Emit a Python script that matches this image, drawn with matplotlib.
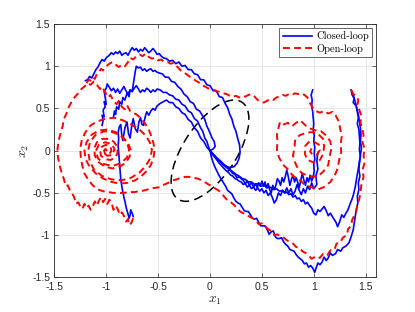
import numpy as np
import matplotlib
matplotlib.use('Agg')
import matplotlib.pyplot as plt
from matplotlib.patches import Ellipse

plt.rcParams['font.family'] = ['Liberation Sans', 'DejaVu Sans']
plt.rcParams['mathtext.fontset'] = 'cm'
plt.rcParams['axes.unicode_minus'] = False

# ---------------- data ----------------
closed_1 = [(-1.20,0.83),(-1.18,0.84),(-1.16,0.88),(-1.14,0.86),(-1.12,0.91),(-1.10,0.96),(-1.08,0.99),(-1.06,1.04),(-1.04,1.08),(-1.02,1.06),(-1.00,1.10),(-0.97,1.13),(-0.95,1.16),(-0.93,1.14),(-0.91,1.17),(-0.89,1.15),(-0.87,1.18),(-0.85,1.13),(-0.83,1.15),(-0.81,1.16),(-0.79,1.13),(-0.77,1.18),(-0.75,1.22),(-0.73,1.19),(-0.71,1.21),(-0.69,1.17),(-0.67,1.20),(-0.65,1.18),(-0.63,1.22),(-0.61,1.19),(-0.59,1.16),(-0.57,1.18),(-0.55,1.21),(-0.53,1.18),(-0.51,1.14),(-0.49,1.15),(-0.47,1.12),(-0.45,1.10),(-0.42,1.09),(-0.39,1.06),(-0.36,1.07),(-0.33,1.03),(-0.30,1.05),(-0.27,1.00),(-0.24,1.01),(-0.21,0.96),(-0.18,0.96),(-0.15,0.91),(-0.12,0.90),(-0.09,0.84),(-0.06,0.84),(-0.03,0.78),(0.00,0.77),(0.03,0.71),(0.06,0.71),(0.09,0.64),(0.12,0.63),(0.15,0.55),(0.17,0.51),(0.19,0.43),(0.21,0.38),(0.23,0.29),(0.25,0.23),(0.27,0.13),(0.285,0.07),(0.29,-0.02),(0.28,-0.09),(0.26,-0.15),(0.23,-0.19),(0.19,-0.20),(0.15,-0.18),(0.11,-0.14),(0.07,-0.10),(0.03,-0.05),(0.0,0.0)]
closed_2 = [(-0.93,0.40),(-0.92,0.47),(-0.91,0.43),(-0.90,0.52),(-0.88,0.49),(-0.87,0.58),(-0.85,0.55),(-0.84,0.63),(-0.82,0.60),(-0.80,0.68),(-0.78,0.64),(-0.77,0.72),(-0.75,0.70),(-0.74,0.78),(-0.73,0.86),(-0.72,0.94),(-0.71,1.00),(-0.69,0.98),(-0.67,0.99),(-0.65,0.95),(-0.63,0.97),(-0.61,0.94),(-0.59,0.96),(-0.57,0.97),(-0.55,0.94),(-0.53,0.95),(-0.51,0.93),(-0.49,0.92),(-0.46,0.91),(-0.43,0.87),(-0.40,0.87),(-0.37,0.82),(-0.34,0.81),(-0.31,0.76),(-0.28,0.73),(-0.25,0.67),(-0.22,0.64),(-0.19,0.58),(-0.16,0.56),(-0.13,0.49),(-0.10,0.47),(-0.07,0.41),(-0.05,0.37),(-0.03,0.29),(-0.01,0.24),(0.02,0.15),(0.04,0.11),(0.05,0.05),(0.03,0.02),(0.0,0.0)]
closed_3 = [(-1.04,0.30),(-1.03,0.36),(-1.04,0.42),(-1.02,0.40),(-1.03,0.48),(-1.01,0.52),(-1.02,0.58),(-1.00,0.55),(-1.01,0.63),(-1.02,0.70),(-1.00,0.74),(-0.99,0.79),(-0.97,0.75),(-0.95,0.71),(-0.93,0.74),(-0.91,0.69),(-0.89,0.73),(-0.87,0.68),(-0.85,0.72),(-0.83,0.76),(-0.81,0.71),(-0.79,0.67),(-0.77,0.72),(-0.75,0.70),(-0.73,0.74),(-0.71,0.77),(-0.69,0.73),(-0.67,0.69),(-0.65,0.72),(-0.63,0.70),(-0.61,0.74),(-0.59,0.72),(-0.57,0.69),(-0.55,0.72),(-0.53,0.70),(-0.51,0.73),(-0.48,0.72),(-0.45,0.69),(-0.42,0.69),(-0.39,0.66),(-0.36,0.65),(-0.33,0.61),(-0.30,0.60),(-0.27,0.55),(-0.24,0.53),(-0.21,0.47),(-0.18,0.45),(-0.15,0.38),(-0.12,0.35),(-0.09,0.27),(-0.07,0.23),(-0.05,0.15),(-0.03,0.11),(-0.015,0.05),(0.0,0.0)]
closed_4 = [(-0.74,-0.78),(-0.75,-0.74),(-0.765,-0.70),(-0.77,-0.76),(-0.78,-0.80),(-0.79,-0.75),(-0.80,-0.71),(-0.81,-0.66),(-0.82,-0.60),(-0.83,-0.55),(-0.84,-0.49),(-0.85,-0.42),(-0.86,-0.34),(-0.865,-0.26),(-0.87,-0.18),(-0.875,-0.10),(-0.88,-0.02),(-0.885,0.06),(-0.88,0.14),(-0.885,0.22),(-0.875,0.28),(-0.86,0.31),(-0.85,0.18),(-0.84,0.12),(-0.82,0.27),(-0.80,0.34),(-0.785,0.20),(-0.77,0.15),(-0.755,0.29),(-0.74,0.38),(-0.72,0.26),(-0.70,0.22),(-0.685,0.34),(-0.67,0.39),(-0.655,0.31),(-0.64,0.30),(-0.625,0.40),(-0.61,0.46),(-0.59,0.42),(-0.57,0.47),(-0.55,0.50),(-0.53,0.48),(-0.51,0.53),(-0.48,0.56),(-0.45,0.58),(-0.42,0.60),(-0.39,0.57),(-0.36,0.57),(-0.33,0.52),(-0.30,0.50),(-0.27,0.45),(-0.24,0.43),(-0.21,0.37),(-0.18,0.34),(-0.15,0.27),(-0.12,0.23),(-0.09,0.15),(-0.06,0.11),(-0.03,0.04),(0.0,0.0)]
closed_5 = [(0.99,0.72),(0.975,0.66),(0.985,0.60),(0.98,0.53),(0.99,0.46),(0.995,0.39),(1.0,0.32),(0.995,0.25),(1.005,0.18),(1.0,0.11),(1.01,0.04),(1.005,-0.03),(1.01,-0.10),(1.0,-0.17),(1.005,-0.24),(0.995,-0.31),(0.98,-0.36),(0.965,-0.29),(0.95,-0.37),(0.935,-0.32),(0.92,-0.41),(0.905,-0.35),(0.89,-0.27),(0.875,-0.35),(0.86,-0.44),(0.845,-0.37),(0.83,-0.32),(0.815,-0.37),(0.80,-0.29),(0.785,-0.34),(0.77,-0.41),(0.755,-0.31),(0.74,-0.23),(0.725,-0.31),(0.71,-0.37),(0.695,-0.32),(0.68,-0.41),(0.665,-0.36),(0.65,-0.33),(0.635,-0.41),(0.62,-0.46),(0.605,-0.41),(0.59,-0.50),(0.575,-0.46),(0.56,-0.39),(0.545,-0.44),(0.53,-0.37),(0.515,-0.42),(0.50,-0.36),(0.485,-0.42),(0.47,-0.38),(0.455,-0.44),(0.44,-0.39),(0.42,-0.43),(0.40,-0.38),(0.38,-0.41),(0.36,-0.36),(0.34,-0.39),(0.32,-0.35),(0.30,-0.33),(0.28,-0.31),(0.26,-0.32),(0.24,-0.28),(0.22,-0.27),(0.20,-0.24),(0.18,-0.22),(0.16,-0.20),(0.14,-0.18),(0.12,-0.16),(0.10,-0.13),(0.08,-0.11),(0.06,-0.08),(0.04,-0.06),(0.02,-0.03),(0.0,0.0)]
closed_6 = [(1.04,-0.02),(1.03,-0.12),(1.04,-0.22),(1.02,-0.30),(1.03,-0.40),(1.0,-0.45),(0.98,-0.38),(0.96,-0.46),(0.94,-0.42),(0.92,-0.50),(0.90,-0.45),(0.88,-0.52),(0.86,-0.47),(0.84,-0.40),(0.82,-0.48),(0.80,-0.52),(0.78,-0.45),(0.76,-0.50),(0.74,-0.44),(0.72,-0.50),(0.70,-0.47),(0.68,-0.53),(0.66,-0.50),(0.64,-0.58),(0.62,-0.62),(0.60,-0.55),(0.58,-0.50),(0.56,-0.53),(0.54,-0.47),(0.52,-0.50),(0.50,-0.45),(0.48,-0.48),(0.46,-0.44),(0.44,-0.47),(0.42,-0.43),(0.40,-0.45),(0.38,-0.41),(0.36,-0.43),(0.34,-0.39),(0.32,-0.40),(0.30,-0.37),(0.28,-0.36),(0.26,-0.34),(0.24,-0.33),(0.22,-0.30),(0.20,-0.29),(0.18,-0.26),(0.15,-0.23),(0.12,-0.19),(0.09,-0.15),(0.06,-0.10),(0.03,-0.05),(0.0,0.0)]
closed_7 = [(1.36,0.72),(1.37,0.66),(1.39,0.62),(1.38,0.57),(1.41,0.53),(1.42,0.46),(1.43,0.39),(1.42,0.32),(1.435,0.25),(1.44,0.17),(1.445,0.09),(1.44,0.01),(1.45,-0.07),(1.44,-0.15),(1.435,-0.22),(1.445,-0.30),(1.43,-0.38),(1.435,-0.46),(1.42,-0.54),(1.425,-0.62),(1.41,-0.70),(1.40,-0.78),(1.39,-0.86),(1.38,-0.94),(1.36,-1.02),(1.34,-1.09),(1.31,-1.13),(1.28,-1.15),(1.26,-1.19),(1.23,-1.17),(1.21,-1.22),(1.18,-1.24),(1.16,-1.21),(1.14,-1.27),(1.12,-1.30),(1.10,-1.26),(1.08,-1.32),(1.06,-1.35),(1.04,-1.33),(1.02,-1.40),(1.01,-1.44),(0.99,-1.39),(0.97,-1.36),(0.95,-1.38),(0.93,-1.33),(0.91,-1.34),(0.89,-1.30),(0.87,-1.28),(0.85,-1.26),(0.83,-1.23),(0.81,-1.19),(0.79,-1.18),(0.77,-1.17),(0.75,-1.13),(0.73,-1.11),(0.71,-1.08),(0.69,-1.03),(0.67,-1.04),(0.65,-1.04),(0.63,-1.02),(0.61,-0.95),(0.59,-0.96),(0.57,-0.99),(0.55,-0.93),(0.53,-0.89),(0.51,-0.89),(0.49,-0.89),(0.47,-0.85),(0.45,-0.80),(0.43,-0.81),(0.41,-0.80),(0.39,-0.76),(0.37,-0.72),(0.35,-0.72),(0.33,-0.71),(0.31,-0.67),(0.29,-0.63),(0.27,-0.62),(0.25,-0.60),(0.23,-0.56),(0.21,-0.51),(0.19,-0.49),(0.17,-0.47),(0.15,-0.42),(0.13,-0.38),(0.11,-0.34),(0.09,-0.30),(0.07,-0.25),(0.05,-0.20),(0.03,-0.14),(0.015,-0.08),(0.0,0.0)]
closed_8 = [(1.37,0.70),(1.385,0.64),(1.40,0.58),(1.415,0.50),(1.43,0.43),(1.44,0.35),(1.45,0.27),(1.455,0.19),(1.45,0.11),(1.46,0.03),(1.45,-0.05),(1.44,-0.13),(1.43,-0.21),(1.42,-0.28),(1.41,-0.35),(1.40,-0.43),(1.385,-0.51),(1.37,-0.57),(1.35,-0.63),(1.33,-0.70),(1.31,-0.74),(1.29,-0.79),(1.27,-0.76),(1.25,-0.84),(1.23,-0.90),(1.215,-0.85),(1.20,-0.82),(1.18,-0.78),(1.16,-0.74),(1.14,-0.77),(1.12,-0.71),(1.10,-0.66),(1.08,-0.69),(1.06,-0.72),(1.04,-0.70),(1.02,-0.76),(1.0,-0.74),(0.98,-0.68),(0.96,-0.65),(0.94,-0.61),(0.92,-0.63),(0.90,-0.58),(0.88,-0.60),(0.86,-0.56),(0.84,-0.57),(0.82,-0.53),(0.80,-0.55),(0.78,-0.51),(0.76,-0.52),(0.74,-0.49),(0.72,-0.50),(0.70,-0.47),(0.67,-0.48),(0.64,-0.45),(0.61,-0.46),(0.58,-0.43),(0.55,-0.44),(0.52,-0.41),(0.49,-0.42),(0.46,-0.39),(0.43,-0.40),(0.40,-0.37),(0.37,-0.37),(0.34,-0.34),(0.31,-0.33),(0.28,-0.30),(0.25,-0.28),(0.22,-0.25),(0.19,-0.22),(0.16,-0.19),(0.13,-0.16),(0.10,-0.12),(0.07,-0.09),(0.04,-0.05),(0.0,0.0)]

open_1 = [(-0.74,-0.80),(-0.76,-0.86),(-0.78,-0.88),(-0.79,-0.81),(-0.81,-0.84),(-0.83,-0.77),(-0.85,-0.73),(-0.87,-0.76),(-0.89,-0.69),(-0.91,-0.65),(-0.93,-0.70),(-0.95,-0.61),(-0.97,-0.58),(-0.99,-0.63),(-1.01,-0.57),(-1.03,-0.61),(-1.05,-0.55),(-1.07,-0.59),(-1.09,-0.65),(-1.11,-0.60),(-1.13,-0.66),(-1.15,-0.70),(-1.17,-0.65),(-1.19,-0.68),(-1.21,-0.63),(-1.23,-0.69),(-1.25,-0.66),(-1.27,-0.61),(-1.29,-0.63),(-1.31,-0.55),(-1.33,-0.50),(-1.35,-0.47),(-1.37,-0.41),(-1.39,-0.42),(-1.41,-0.33),(-1.43,-0.26),(-1.45,-0.17),(-1.465,-0.08),(-1.47,0.02),(-1.46,0.11),(-1.44,0.21),(-1.42,0.29),(-1.41,0.37),(-1.38,0.45),(-1.36,0.52),(-1.33,0.59),(-1.30,0.64),(-1.27,0.68),(-1.24,0.73),(-1.21,0.76),(-1.18,0.80),(-1.15,0.78),(-1.12,0.82),(-1.09,0.78),(-1.06,0.73),(-1.04,0.76),(-1.01,0.69),(-0.98,0.63),(-0.96,0.66),(-0.93,0.59),(-0.90,0.55),(-0.88,0.59),(-0.85,0.52),(-0.82,0.49),(-0.80,0.54),(-0.77,0.47),(-0.74,0.45),(-0.71,0.43),(-0.68,0.40),(-0.65,0.36),(-0.62,0.31),(-0.59,0.25),(-0.565,0.17),(-0.545,0.09),(-0.535,0.0),(-0.545,-0.09),(-0.57,-0.17),(-0.61,-0.24),(-0.66,-0.30),(-0.72,-0.35),(-0.79,-0.38),(-0.87,-0.39),(-0.95,-0.37),(-1.03,-0.33),(-1.10,-0.27),(-1.16,-0.19),(-1.20,-0.10),(-1.21,0.0),(-1.19,0.10),(-1.14,0.19),(-1.07,0.24),(-0.99,0.25),(-0.91,0.22),(-0.84,0.16),(-0.79,0.09),(-0.765,0.01),(-0.775,-0.07),(-0.81,-0.14),(-0.87,-0.19),(-0.94,-0.21),(-1.01,-0.19),(-1.07,-0.14),(-1.11,-0.06),(-1.115,0.03),(-1.09,0.10),(-1.04,0.14),(-0.98,0.14),(-0.93,0.11),(-0.895,0.05),(-0.89,-0.02),(-0.91,-0.08),(-0.96,-0.11),(-1.01,-0.10),(-1.05,-0.06),(-1.06,0.0),(-1.04,0.05),(-1.0,0.07),(-0.96,0.05),(-0.95,0.0),(-0.97,-0.04),(-1.01,-0.04),(-1.02,0.0),(-1.0,0.02)]
open_2 = [(-1.19,0.80),(-1.17,0.84),(-1.15,0.83),(-1.13,0.87),(-1.11,0.85),(-1.09,0.91),(-1.07,0.93),(-1.05,0.97),(-1.03,0.95),(-1.00,1.00),(-0.97,1.03),(-0.94,1.05),(-0.91,1.02),(-0.88,0.99),(-0.85,1.02),(-0.82,1.00),(-0.79,1.05),(-0.77,1.10),(-0.74,1.08),(-0.71,1.12),(-0.68,1.14),(-0.65,1.12),(-0.62,1.15),(-0.59,1.11),(-0.56,1.09),(-0.53,1.10),(-0.50,1.07),(-0.47,1.08),(-0.44,1.05),(-0.41,1.05),(-0.38,1.03),(-0.35,1.04),(-0.32,1.00),(-0.29,0.96),(-0.26,0.93),(-0.23,0.91),(-0.20,0.88),(-0.17,0.86),(-0.14,0.83),(-0.11,0.81),(-0.08,0.78),(-0.05,0.76),(-0.02,0.74),(0.01,0.73),(0.04,0.72),(0.07,0.70),(0.10,0.70),(0.13,0.68),(0.16,0.67),(0.19,0.65),(0.22,0.64),(0.25,0.65),(0.28,0.63),(0.31,0.65),(0.34,0.64),(0.37,0.66),(0.40,0.67),(0.43,0.64),(0.46,0.60),(0.49,0.58),(0.52,0.57),(0.55,0.59),(0.58,0.61),(0.61,0.60),(0.64,0.63),(0.67,0.64),(0.70,0.66),(0.73,0.65),(0.76,0.67),(0.79,0.66),(0.82,0.68),(0.85,0.67),(0.88,0.68),(0.91,0.66),(0.94,0.63),(0.96,0.57),(0.99,0.51),(1.02,0.47),(1.06,0.45),(1.10,0.47),(1.14,0.44),(1.18,0.46),(1.21,0.42),(1.24,0.35),(1.255,0.26),(1.27,0.17),(1.26,0.08),(1.265,-0.02),(1.245,-0.11),(1.23,-0.21),(1.20,-0.30),(1.16,-0.37),(1.10,-0.43),(1.04,-0.46),(0.97,-0.43),(0.91,-0.40),(0.86,-0.34),(0.80,-0.30),(0.75,-0.22),(0.70,-0.16),(0.665,-0.08),(0.645,0.01),(0.65,0.10),(0.645,0.19),(0.66,0.27),(0.675,0.34),(0.71,0.31),(0.75,0.33),(0.79,0.29),(0.83,0.33),(0.87,0.36),(0.92,0.30),(0.97,0.26),(1.02,0.24),(1.07,0.23),(1.12,0.18),(1.16,0.11),(1.17,0.02),(1.15,-0.08),(1.14,-0.17),(1.09,-0.25),(1.03,-0.31),(0.96,-0.30),(0.89,-0.27),(0.85,-0.22),(0.82,-0.14),(0.80,-0.06),(0.815,0.04),(0.82,0.12),(0.86,0.18),(0.92,0.21),(0.98,0.22),(1.04,0.20),(1.09,0.14),(1.10,0.05),(1.09,-0.04),(1.06,-0.11),(1.00,-0.14),(0.94,-0.11),(0.915,-0.04),(0.915,0.05),(0.95,0.10),(1.00,0.11),(1.05,0.07),(1.06,0.01),(1.03,-0.05),(0.99,-0.05),(0.965,-0.01),(0.98,0.03),(1.0,0.01)]
open_3 = [(1.36,0.72),(1.38,0.67),(1.41,0.65),(1.43,0.60),(1.42,0.54),(1.44,0.48),(1.46,0.41),(1.45,0.33),(1.47,0.26),(1.48,0.18),(1.47,0.10),(1.49,0.02),(1.48,-0.06),(1.49,-0.14),(1.47,-0.23),(1.48,-0.31),(1.46,-0.40),(1.45,-0.49),(1.44,-0.57),(1.42,-0.64),(1.41,-0.72),(1.39,-0.77),(1.37,-0.82),(1.36,-0.89),(1.33,-0.93),(1.32,-1.00),(1.28,-1.03),(1.26,-1.08),(1.22,-1.10),(1.20,-1.17),(1.16,-1.18),(1.13,-1.24),(1.09,-1.22),(1.06,-1.27),(1.02,-1.25),(0.98,-1.28),(0.95,-1.24),(0.92,-1.21),(0.89,-1.19),(0.86,-1.15),(0.83,-1.14),(0.80,-1.10),(0.77,-1.08),(0.74,-1.06),(0.71,-1.03),(0.68,-1.02),(0.65,-0.99),(0.62,-1.00),(0.59,-0.95),(0.56,-0.93),(0.53,-0.89),(0.50,-0.86),(0.47,-0.87),(0.44,-0.82),(0.41,-0.80),(0.38,-0.78),(0.35,-0.76),(0.32,-0.74),(0.29,-0.72),(0.26,-0.68),(0.23,-0.64),(0.20,-0.61),(0.17,-0.59),(0.14,-0.55),(0.11,-0.50),(0.08,-0.47),(0.04,-0.44),(0.0,-0.41),(-0.04,-0.38),(-0.08,-0.35),(-0.12,-0.33),(-0.16,-0.32),(-0.20,-0.31),(-0.24,-0.31),(-0.28,-0.32),(-0.32,-0.34),(-0.36,-0.35),(-0.40,-0.38),(-0.44,-0.40),(-0.48,-0.43),(-0.53,-0.44),(-0.58,-0.45),(-0.63,-0.47),(-0.68,-0.48),(-0.73,-0.49),(-0.78,-0.49),(-0.83,-0.50),(-0.88,-0.50),(-0.93,-0.50),(-0.98,-0.49),(-1.03,-0.48),(-1.08,-0.46),(-1.13,-0.41),(-1.17,-0.35),(-1.21,-0.27),(-1.23,-0.18),(-1.245,-0.08),(-1.25,0.03),(-1.235,0.13),(-1.20,0.22),(-1.15,0.30),(-1.08,0.35),(-1.00,0.38),(-0.92,0.39),(-0.84,0.36),(-0.76,0.31),(-0.68,0.25),(-0.62,0.18),(-0.58,0.10),(-0.56,0.01),(-0.575,-0.09),(-0.62,-0.18),(-0.68,-0.26),(-0.76,-0.32),(-0.85,-0.35),(-0.95,-0.34),(-1.04,-0.30),(-1.12,-0.22),(-1.16,-0.12),(-1.175,0.0),(-1.155,0.11),(-1.10,0.19),(-1.02,0.23),(-0.94,0.22),(-0.86,0.18),(-0.80,0.10),(-0.78,0.01),(-0.80,-0.08),(-0.86,-0.15),(-0.94,-0.18),(-1.02,-0.16),(-1.08,-0.09),(-1.10,0.0),(-1.07,0.07),(-1.01,0.10),(-0.95,0.08),(-0.92,0.02),(-0.94,-0.05),(-0.99,-0.06),(-1.03,-0.02),(-1.01,0.02),(-0.99,0.0)]

closed_loop = [closed_1, closed_2, closed_3, closed_4, closed_5, closed_6, closed_7, closed_8]
open_loop = [open_1, open_2, open_3]

ellipse_center = (0.0, 0.0)
ellipse_semi_axes = (0.654, 0.269)
ellipse_angle_deg = 64.0

tick_values = [-1.5, -1.0, -0.5, 0.0, 0.5, 1.0, 1.5]
tick_labels = ['-1.5', '-1', '-0.5', '0', '0.5', '1', '1.5']
legend_labels = ['Closed-loop', 'Open-loop']

# ---------------- figure ----------------
fig = plt.figure(figsize=(4.15, 3.12), dpi=100)
ax = fig.add_axes([0.131, 0.111, 0.775, 0.812])

blue_handle = None
for traj in closed_loop:
    a = np.array(traj)
    h, = ax.plot(a[:, 0], a[:, 1], color=(0, 0, 1), lw=1.2, solid_joinstyle='round')
    blue_handle = h
red_handle = None
for traj in open_loop:
    a = np.array(traj)
    h, = ax.plot(a[:, 0], a[:, 1], color=(1, 0, 0), lw=1.4, linestyle=(0, (3.5, 2.2)))
    red_handle = h

ell = Ellipse(ellipse_center, 2 * ellipse_semi_axes[0], 2 * ellipse_semi_axes[1],
              angle=ellipse_angle_deg, fill=False, edgecolor='black', lw=1.1,
              linestyle=(0, (6, 3.5)))
ax.add_patch(ell)

ax.set_xlim(-1.5, 1.6)
ax.set_ylim(-1.5, 1.5)
ax.set_xticks(tick_values)
ax.set_xticklabels(tick_labels)
ax.set_yticks(tick_values)
ax.set_yticklabels(tick_labels)
ax.grid(True, color='#e3e3e3', lw=0.6)
ax.set_axisbelow(True)
for s in ax.spines.values():
    s.set_color('#262626')
    s.set_linewidth(0.6)
ax.tick_params(direction='in', length=3, width=0.5, top=True, right=True,
               labelsize=7.5, colors='#262626', pad=3)

ax.set_xlabel(r'$x_1$', fontsize=10, color='#262626', labelpad=1)
ax.set_ylabel(r'$x_2$', fontsize=10, color='#262626', labelpad=1)

leg = ax.legend([blue_handle, red_handle], legend_labels, loc='upper right',
                prop={'family': 'cmr10', 'size': 7.5}, fancybox=False,
                framealpha=1, edgecolor='#262626', handlelength=2.8,
                borderpad=0.3, labelspacing=0.25, handletextpad=0.4,
                borderaxespad=0.4)
leg.get_frame().set_linewidth(0.5)

fig.savefig('out.png', dpi=100)
